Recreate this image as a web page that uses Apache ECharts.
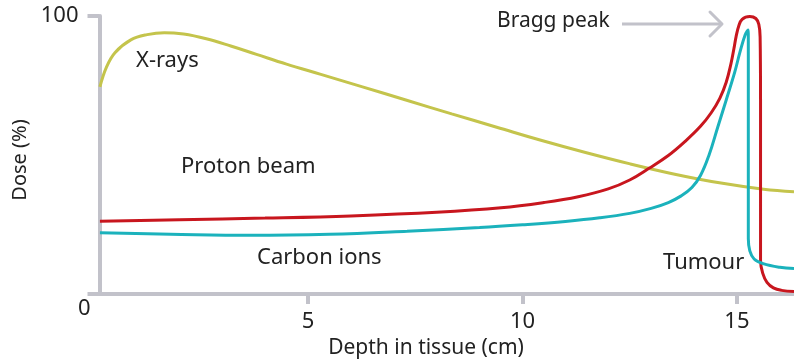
<!DOCTYPE html>
<html>
<head>
<meta charset="utf-8">
<script src="https://cdn.jsdelivr.net/npm/echarts@6/dist/echarts.min.js"></script>
<style>
  html, body { margin: 0; padding: 0; background: #fff; }
  #chart { width: 794px; height: 362px; }
</style>
</head>
<body>
<div id="chart"></div>
<script>
// Depth-dose curves: depth in tissue (cm) against relative dose (%)
const xrayDepth = [0.15, 0.3, 0.5, 0.87, 1.25, 1.65, 2.1, 2.63, 3.2, 3.8, 4.5, 5.3, 6.27, 7.3, 8.35, 9.4, 10.43, 11.47, 12.51, 13.55, 14.59, 15.62, 16.33];
const xrayDose  = [74.5, 81.5, 86.8, 91.4, 93.3, 94.0, 93.5, 91.8, 89.2, 86.2, 82.7, 79.0, 74.5, 69.7, 64.8, 60.0, 55.3, 50.9, 46.8, 43.1, 40.0, 37.7, 36.8];

const protonDepth = [0.15, 2.0, 4.0, 6.0, 8.0, 9.5, 10.5, 11.3, 12.0, 12.5, 12.95, 13.4, 13.8, 14.15, 14.4, 14.6, 14.75, 14.86, 14.93, 14.98, 15.04, 15.12, 15.3, 15.44, 15.51, 15.54, 15.55, 15.55, 15.6, 15.7, 15.85, 16.04, 16.33];
const protonDose  = [26.2, 26.7, 27.3, 28.1, 29.4, 31.0, 32.9, 35.0, 37.8, 41.0, 45.2, 49.8, 55.0, 60.3, 65.2, 70.4, 76.2, 82.8, 88.3, 92.6, 96.3, 98.8, 99.8, 99.1, 97.0, 92.5, 70, 12, 7.5, 4.2, 2.2, 1.3, 0.9];

const carbonDepth = [0.15, 1.8, 3.67, 5.5, 7.31, 9.0, 10.0, 11.0, 11.8, 12.5, 13.0, 13.4, 13.7, 13.95, 14.15, 14.35, 14.55, 14.75, 14.95, 15.07, 15.19, 15.26, 15.265, 15.265, 15.3, 15.4, 15.61, 16.0, 16.33];
const carbonDose  = [22.0, 21.5, 21.1, 21.5, 22.6, 23.9, 24.9, 26.1, 27.4, 29.0, 30.8, 32.9, 35.3, 38.3, 42.6, 50.0, 59.9, 69.8, 79.9, 87.0, 93.2, 95.0, 91, 20, 15.5, 12.6, 10.9, 9.6, 9.2];

const xTicks = [5, 10, 15];

const axisGrey = '#c2c2ca';
const textColor = '#222';
const font = 'Noto Sans';

function pairs(xs, ys) { return xs.map((x, i) => [x, ys[i]]); }

const chart = echarts.init(document.getElementById('chart'), null, { renderer: 'canvas' });

function lineSeries(name, xs, ys, color) {
  return {
    name: name,
    type: 'line',
    data: pairs(xs, ys),
    showSymbol: false,
    symbol: 'none',
    smooth: 0.4,
    lineStyle: { color: color, width: 3 },
    z: 3,
    silent: true
  };
}

chart.setOption({
  animation: false,
  backgroundColor: '#fff',
  grid: { left: 93.5, right: 0, top: 16, bottom: 68 },
  xAxis: {
    type: 'value',
    min: 0,
    max: 16.33,
    interval: 5,
    axisLine: { show: true, lineStyle: { color: axisGrey, width: 4 } },
    axisTick: { show: true, customValues: xTicks, length: 10, lineStyle: { color: axisGrey, width: 4 } },
    axisLabel: { customValues: xTicks, margin: 17, fontFamily: font, fontSize: 22, color: textColor },
    splitLine: { show: false }
  },
  yAxis: {
    type: 'value',
    min: 0,
    max: 100,
    interval: 100,
    offset: -6,
    axisLine: { show: true, lineStyle: { color: axisGrey, width: 4 } },
    axisTick: { show: true, length: 12, lineStyle: { color: axisGrey, width: 4 } },
    axisLabel: {
      margin: 21, fontFamily: font, fontSize: 22, color: textColor,
      formatter: v => (v === 100 ? '100' : '')
    },
    splitLine: { show: false }
  },
  series: [
    lineSeries('X-rays', xrayDepth, xrayDose, '#c4c44c'),
    lineSeries('Proton beam', protonDepth, protonDose, '#c8161e'),
    lineSeries('Carbon ions', carbonDepth, carbonDose, '#1bb2bc')
  ],
  graphic: [
    { type: 'text', left: 78, top: 298, style: { text: '0', font: '22px "Noto Sans"', fill: textColor } },
    { type: 'text', x: 426, y: 348, style: { text: 'Depth in tissue (cm)', font: '21px "Noto Sans"', fill: textColor, align: 'center', verticalAlign: 'middle' } },
    { type: 'text', x: 20, y: 160, rotation: Math.PI / 2, style: { text: 'Dose (%)', font: '20px "Noto Sans"', fill: textColor, align: 'center', verticalAlign: 'middle' } },
    { type: 'text', x: 136, y: 61, style: { text: 'X-rays', font: '22px "Noto Sans"', fill: textColor, verticalAlign: 'middle' } },
    { type: 'text', x: 181, y: 167, style: { text: 'Proton beam', font: '22px "Noto Sans"', fill: textColor, verticalAlign: 'middle' } },
    { type: 'text', x: 257, y: 258, style: { text: 'Carbon ions', font: '22px "Noto Sans"', fill: textColor, verticalAlign: 'middle' } },
    { type: 'text', x: 663, y: 263, style: { text: 'Tumour', font: '22px "Noto Sans"', fill: textColor, verticalAlign: 'middle' } },
    { type: 'text', x: 497, y: 21, style: { text: 'Bragg peak', font: '21px "Noto Sans"', fill: textColor, verticalAlign: 'middle' } },
    { type: 'polyline', shape: { points: [[622, 24], [721, 24]] }, style: { stroke: axisGrey, lineWidth: 3, fill: null } },
    { type: 'polyline', shape: { points: [[710, 12], [722, 24], [710, 36]] }, style: { stroke: axisGrey, lineWidth: 3, fill: null, lineJoin: 'round', lineCap: 'round' } }
  ]
});
</script>
</body>
</html>
